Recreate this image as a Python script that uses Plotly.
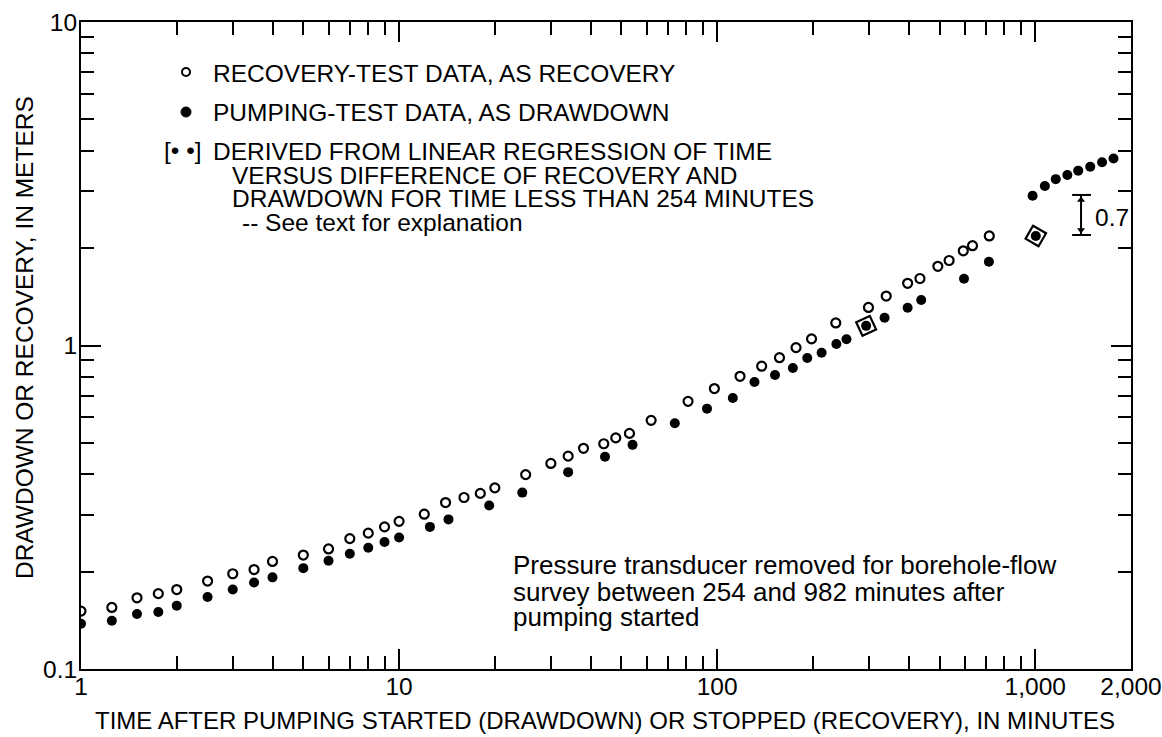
import numpy as np
import plotly.graph_objects as go

# ---------------- data ----------------
rec_time = [1, 1.25, 1.5, 1.75, 2, 2.5, 3, 3.5, 4, 5, 6, 7, 8, 9, 10,
            12, 14, 16, 18, 20, 25, 30, 34, 38, 44, 48, 53, 62, 81, 98,
            118, 138, 157, 177, 198, 236, 299, 340, 397, 434, 494, 536, 594, 635, 717]
rec_value = [0.151, 0.155, 0.166, 0.171, 0.176, 0.187, 0.197, 0.203, 0.215, 0.225, 0.235, 0.253, 0.263, 0.275, 0.286,
             0.301, 0.327, 0.339, 0.349, 0.363, 0.399, 0.432, 0.455, 0.481, 0.497, 0.518, 0.535, 0.587, 0.672, 0.736,
             0.803, 0.863, 0.917, 0.985, 1.048, 1.174, 1.311, 1.422, 1.557, 1.611, 1.757, 1.831, 1.962, 2.035, 2.181]

pump_time = [1, 1.25, 1.5, 1.75, 2, 2.5, 3, 3.5, 4, 5, 6, 7, 8, 9, 10,
             12.5, 14.3, 19.2, 24.4, 34, 44.4, 54.2, 73.6, 92.9, 112, 131, 152, 173, 192, 213, 237, 255,
             336, 397, 438, 597, 715,
             981, 1072, 1160, 1262, 1365, 1489, 1622, 1762]
pump_value = [0.138, 0.141, 0.148, 0.150, 0.157, 0.167, 0.176, 0.185, 0.192, 0.205, 0.216, 0.227, 0.237, 0.247, 0.255,
              0.275, 0.290, 0.320, 0.351, 0.406, 0.453, 0.493, 0.575, 0.638, 0.688, 0.771, 0.811, 0.852, 0.915, 0.950, 1.011, 1.045,
              1.219, 1.309, 1.382, 1.609, 1.816,
              2.905, 3.112, 3.268, 3.367, 3.471, 3.571, 3.684, 3.785]

derived_time = [294, 1004]
derived_value = [1.150, 2.181]

# 0.7-m offset indicator
offset_time = 1393
offset_low = 2.196
offset_high = 2.92
offset_left = 1306
offset_right = 1497

x_tickvals = [1, 10, 100, 1000, 2000]
x_ticktext = ["1", "10", "100", "1,000", "2,000"]
y_tickvals = [0.1, 1, 10]
y_ticktext = ["0.1", "1", "10"]

# ---------------- layout geometry ----------------
W, H = 1162, 737
L, R, T, B = 81, 1131, 22, 669
FONT = "Liberation Sans"
FS = 24.5
FS_NOTE = 26


def px(x):
    return (x - L) / (R - L)


def py(y):
    return (B - y) / (B - T)


fig = go.Figure()

fig.add_trace(go.Scatter(
    x=rec_time, y=rec_value, mode="markers",
    marker=dict(symbol="circle-open", size=9, color="black", line=dict(width=2.2, color="black")),
    showlegend=False))

fig.add_trace(go.Scatter(
    x=pump_time, y=pump_value, mode="markers",
    marker=dict(symbol="circle", size=10, color="black"),
    showlegend=False))

fig.add_trace(go.Scatter(
    x=derived_time, y=derived_value, mode="markers",
    marker=dict(symbol="circle", size=10, color="black"),
    showlegend=False))
fig.add_trace(go.Scatter(
    x=derived_time, y=derived_value, mode="markers",
    marker=dict(symbol="square-open", size=15, angle=[-25, 30], color="black",
                line=dict(width=2.2, color="black")),
    showlegend=False))

# offset bar (I-beam with arrows)
fig.add_trace(go.Scatter(
    x=[offset_left, offset_right, None, offset_time, offset_time, None, offset_left, offset_right],
    y=[offset_high, offset_high, None, offset_high, offset_low, None, offset_low, offset_low],
    mode="lines", line=dict(color="black", width=2), showlegend=False, hoverinfo="skip"))
shift = 10 ** (5 / 323.5)
fig.add_trace(go.Scatter(
    x=[offset_time, offset_time], y=[offset_high / shift, offset_low * shift],
    mode="markers", marker=dict(symbol=["triangle-up", "triangle-down"], size=7, color="black"),
    showlegend=False, hoverinfo="skip"))

axis_common = dict(
    type="log", showline=True, linecolor="black", linewidth=2, mirror="ticks",
    ticks="inside", ticklen=20, tickwidth=2, tickcolor="black",
    showgrid=False, zeroline=False, automargin=False,
    tickfont=dict(family=FONT, size=FS, color="black"),
)

x_minor = [m * 10 ** k for k in range(0, 3) for m in range(2, 10)] + [2000]
y_minor = [m * 10 ** k for k in (-1, 0) for m in range(2, 10)]

fig.update_xaxes(range=[0, np.log10(2000)], tickmode="array", tickvals=x_tickvals, ticktext=x_ticktext,
                 ticklabelstandoff=-5,
                 minor=dict(ticks="inside", ticklen=13, tickwidth=1.6, tickcolor="black",
                            tickmode="array", tickvals=x_minor, showgrid=False),
                 **axis_common)
fig.update_yaxes(range=[-1, 1], tickmode="array", tickvals=y_tickvals, ticktext=y_ticktext,
                 ticklabelstandoff=-3,
                 minor=dict(ticks="inside", ticklen=13, tickwidth=1.6, tickcolor="black",
                            tickmode="array", tickvals=y_minor, showgrid=False),
                 **axis_common)

annotations = []


def txt(x, y, s, anchor="left", size=FS, angle=0):
    annotations.append(dict(x=px(x), y=py(y), xref="paper", yref="paper", text=s, showarrow=False,
                            xanchor=anchor, yanchor="middle", textangle=angle,
                            font=dict(family=FONT, size=size, color="black")))


# explanation block
txt(211, 73, "RECOVERY-TEST DATA, AS RECOVERY")
txt(211, 112, "PUMPING-TEST DATA, AS DRAWDOWN")
txt(211, 151, "DERIVED FROM LINEAR REGRESSION OF TIME")
txt(230, 175, "VERSUS DIFFERENCE OF RECOVERY AND")
txt(230, 199, "DRAWDOWN FOR TIME LESS THAN 254 MINUTES")
txt(240, 222, "-- See text for explanation")
txt(183, 150, "[• •]", anchor="center")

# note
txt(511, 565, "Pressure transducer removed for borehole-flow", size=FS_NOTE)
txt(511, 592, "survey between 254 and 982 minutes after", size=FS_NOTE)
txt(511, 617, "pumping started", size=FS_NOTE)

# offset label
txt(1093, 217, "0.7")

# axis titles
txt(605, 720, "TIME AFTER PUMPING STARTED (DRAWDOWN) OR STOPPED (RECOVERY), IN MINUTES", anchor="center", size=24)
annotations.append(dict(x=px(24), y=py(338), xref="paper", yref="paper",
                        text="DRAWDOWN OR RECOVERY, IN METERS", showarrow=False, textangle=-90,
                        xanchor="center", yanchor="middle",
                        font=dict(family=FONT, size=FS, color="black")))

shapes = [
    dict(type="circle", xref="paper", yref="paper", xsizemode="pixel", ysizemode="pixel",
         xanchor=px(186), yanchor=py(72), x0=-4, x1=4, y0=-4, y1=4,
         line=dict(color="black", width=2)),
    dict(type="circle", xref="paper", yref="paper", xsizemode="pixel", ysizemode="pixel",
         xanchor=px(186), yanchor=py(112), x0=-5, x1=5, y0=-5, y1=5,
         fillcolor="black", line=dict(color="black", width=1)),
]

fig.update_layout(
    width=W, height=H,
    margin=dict(l=L, r=W - R, t=T, b=H - B, pad=0, autoexpand=False),
    paper_bgcolor="white", plot_bgcolor="white",
    annotations=annotations, shapes=shapes,
    font=dict(family=FONT, size=FS, color="black"),
)

fig.write_html(
    "out.html",
    config={"displayModeBar": False},
    post_script=("document.documentElement.style.overflow='hidden';"
                 "document.body.style.overflow='hidden';"
                 "document.body.style.margin='0';"),
)
